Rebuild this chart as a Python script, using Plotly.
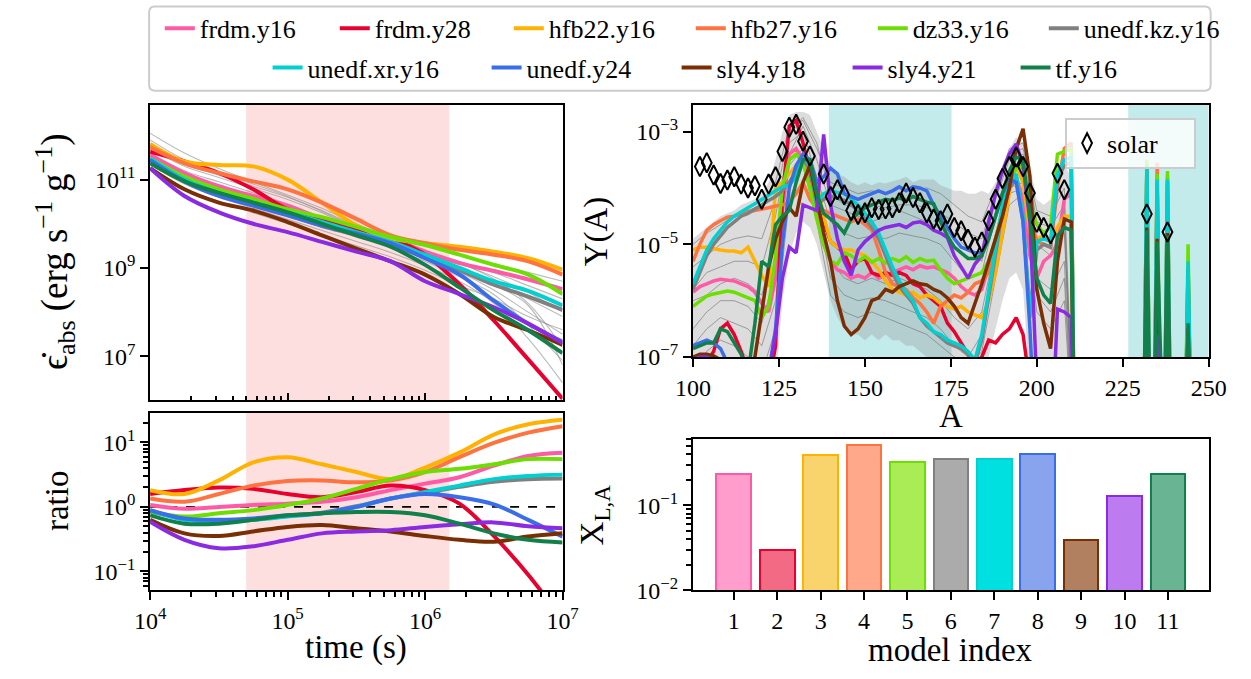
import plotly.graph_objects as go

W, H = 1251, 679
FONT = "Liberation Serif"
ZERO = 1e-9

# ---------------- models ----------------
MODELS = ["frdm.y16", "frdm.y28", "hfb22.y16", "hfb27.y16", "dz33.y16", "unedf.kz.y16",
          "unedf.xr.y16", "unedf.y24", "sly4.y18", "sly4.y21", "tf.y16"]
LINE_COLORS = ["#ff5aa5", "#e8002e", "#ffb300", "#ff7340", "#6cdf00", "#808080",
               "#00d0d0", "#3a6ee8", "#7a2e04", "#8a2be2", "#11804a"]
BAR_FACES = ["#ff9dcc", "#f36a85", "#f9d46c", "#ffa98a", "#a9ec55", "#ababab",
             "#00e0e0", "#89a4ef", "#b08060", "#bd7bf0", "#69b492"]
LEGEND_WIDTHS = [130, 129, 137, 137, 126, 140, 174, 145, 126, 123, 80]

# ---------------- heating rate (log10 erg/s/g) ----------------
LOG_TIME = [4.0, 4.25, 4.5, 4.75, 5.0, 5.25, 5.5, 5.75, 6.0, 6.25, 6.5, 6.75, 7.0]
HEATING_LOG = {
    "frdm.y16":     [11.56, 11.15, 10.85, 10.63, 10.41, 10.11, 9.89, 9.67, 9.37, 9.11, 8.93, 8.74, 8.52],
    "frdm.y28":     [11.63, 11.41, 11.15, 10.78, 10.33, 10.11, 9.89, 9.67, 9.30, 8.63, 7.81, 6.93, 6.04],
    "hfb22.y16":    [11.81, 11.41, 11.33, 11.30, 11.00, 10.48, 9.96, 9.67, 9.56, 9.48, 9.37, 9.22, 8.96],
    "hfb27.y16":    [11.74, 11.37, 11.15, 10.96, 10.78, 10.48, 10.11, 9.74, 9.56, 9.41, 9.30, 9.15, 8.85],
    "dz33.y16":     [11.48, 11.07, 10.78, 10.56, 10.33, 10.15, 9.93, 9.70, 9.52, 9.30, 9.07, 8.85, 8.41],
    "unedf.kz.y16": [11.46, 10.98, 10.68, 10.45, 10.20, 9.95, 9.75, 9.52, 9.25, 8.95, 8.62, 8.35, 8.05],
    "unedf.xr.y16": [11.48, 11.00, 10.70, 10.48, 10.26, 10.04, 9.81, 9.59, 9.30, 9.00, 8.70, 8.48, 8.15],
    "unedf.y24":    [11.44, 10.96, 10.63, 10.41, 10.19, 9.96, 9.78, 9.56, 9.22, 8.85, 8.26, 7.74, 7.33],
    "sly4.y18":     [11.26, 10.78, 10.48, 10.30, 10.04, 9.74, 9.44, 9.15, 8.85, 8.41, 7.89, 7.59, 7.26],
    "sly4.y21":     [11.26, 10.63, 10.26, 10.00, 9.81, 9.59, 9.37, 9.15, 8.70, 8.41, 8.11, 7.74, 7.30],
    "tf.y16":       [11.37, 10.96, 10.70, 10.48, 10.26, 10.00, 9.74, 9.48, 9.07, 8.56, 8.04, 7.59, 7.07],
}
HEATING_GRAY_LOG = [
    [12.05, 11.60, 11.25, 10.95, 10.65, 10.35, 10.00, 9.70, 9.50, 9.30, 9.10, 8.90, 8.70],
    [11.80, 11.35, 11.10, 10.85, 10.60, 10.30, 9.95, 9.65, 9.40, 9.15, 8.90, 8.60, 8.30],
    [11.60, 11.20, 10.95, 10.70, 10.45, 10.15, 9.85, 9.55, 9.30, 9.00, 8.70, 8.30, 7.90],
    [11.50, 11.10, 10.80, 10.55, 10.30, 10.05, 9.80, 9.50, 9.20, 8.90, 8.50, 8.00, 7.50],
    [11.45, 11.00, 10.70, 10.45, 10.20, 9.95, 9.70, 9.45, 9.15, 8.80, 8.40, 7.70, 6.90],
    [11.35, 10.90, 10.60, 10.35, 10.10, 9.85, 9.60, 9.35, 9.05, 8.70, 8.20, 7.40, 6.40],
    [11.25, 10.80, 10.50, 10.25, 10.00, 9.75, 9.50, 9.25, 8.95, 8.60, 8.30, 7.90, 7.60],
    [11.70, 11.30, 11.05, 10.80, 10.55, 10.25, 9.90, 9.60, 9.35, 9.10, 8.80, 8.45, 8.00],
    [11.90, 11.45, 11.15, 10.90, 10.62, 10.28, 9.92, 9.62, 9.38, 9.12, 8.75, 8.20, 7.20],
    [11.55, 11.05, 10.75, 10.50, 10.25, 10.00, 9.76, 9.50, 9.22, 8.95, 8.62, 8.15, 6.80],
]
RATIO_LOG = {
    "frdm.y16":     [0.03, -0.03, 0.00, 0.03, 0.05, 0.08, 0.15, 0.26, 0.36, 0.46, 0.64, 0.79, 0.84],
    "frdm.y28":     [0.20, 0.26, 0.30, 0.28, 0.20, 0.15, 0.23, 0.33, 0.26, 0.05, -0.45, -1.05, -1.75],
    "hfb22.y16":    [0.26, 0.20, 0.41, 0.69, 0.77, 0.66, 0.54, 0.43, 0.61, 0.84, 1.12, 1.28, 1.35],
    "hfb27.y16":    [0.13, 0.08, 0.20, 0.33, 0.40, 0.41, 0.38, 0.41, 0.54, 0.77, 0.99, 1.15, 1.25],
    "dz33.y16":     [-0.08, -0.15, -0.10, -0.05, 0.03, 0.13, 0.28, 0.43, 0.54, 0.59, 0.66, 0.74, 0.74],
    "unedf.kz.y16": [-0.06, -0.19, -0.22, -0.19, -0.14, -0.09, 0.01, 0.13, 0.22, 0.31, 0.39, 0.43, 0.44],
    "unedf.xr.y16": [-0.05, -0.20, -0.23, -0.20, -0.15, -0.10, 0.00, 0.13, 0.23, 0.33, 0.43, 0.48, 0.50],
    "unedf.y24":    [-0.05, -0.18, -0.20, -0.18, -0.13, -0.10, 0.00, 0.13, 0.20, 0.15, 0.04, -0.20, -0.46],
    "sly4.y18":     [-0.20, -0.41, -0.45, -0.38, -0.31, -0.28, -0.33, -0.38, -0.45, -0.51, -0.54, -0.46, -0.41],
    "sly4.y21":     [-0.23, -0.51, -0.64, -0.61, -0.51, -0.41, -0.38, -0.36, -0.31, -0.27, -0.24, -0.30, -0.33],
    "tf.y16":       [-0.13, -0.26, -0.26, -0.20, -0.13, -0.10, -0.08, -0.08, -0.13, -0.26, -0.41, -0.51, -0.55],
}
RATIO_REF_T = [1e4, 1e7]
RATIO_REF = [1.0, 1.0]
SHADE_T = [5e4, 1.5e6]

# ---------------- abundance pattern Y(A), log10 ----------------
A_MAIN = list(range(100, 211, 2))
YA_LOG = {
    "frdm.y16": [-5.85, -5.75, -5.70, -5.65, -5.62, -5.63, -5.65, -5.70, -5.75, -5.85,
                 -6.05, -6.20, -5.60, -4.40, -3.40, -3.30, -3.50, -3.90, -4.50, -5.00,
                 -5.30, -5.45, -5.50, -5.60, -5.55, -5.60, -5.50, -5.60, -5.55, -5.50,
                 -5.45, -5.40, -5.45, -5.38, -5.42, -5.40, -5.45, -5.50, -5.60, -5.75,
                 -5.85, -5.90, -5.80, -5.40, -4.90, -4.40, -3.95, -3.80, -4.20, -5.20,
                 -5.60, -5.30, -5.20, -5.00, -4.20, -4.10],
    "frdm.y28": [-7.30, -7.20, -7.10, -6.90, -6.50, -6.40, -6.60, -6.90, -7.30, -7.60,
                 -7.80, -7.50, -6.80, -4.20, -2.90, -2.80, -3.20, -3.70, -4.20, -4.60,
                 -4.95, -5.05, -5.15, -5.45, -5.30, -5.25, -5.50, -5.55, -5.50, -5.55,
                 -5.50, -5.55, -5.70, -5.75, -5.90, -6.00, -6.10, -6.40, -6.55, -6.75,
                 -6.95, -7.10, -7.00, -6.70, -6.75, -6.60, -6.50, -6.30, -6.60, -7.50,
                 -9.0, -9.0, -9.0, -9.0, -9.0, -9.0],
    "hfb22.y16": [-5.10, -5.05, -5.05, -5.08, -5.10, -5.12, -5.12, -5.15, -5.05, -5.30,
                  -5.55, -5.75, -4.00, -3.90, -3.75, -3.60, -3.45, -3.50, -3.90, -4.50,
                  -4.95, -5.05, -5.10, -5.10, -5.15, -5.20, -5.30, -5.45, -5.65, -5.80,
                  -5.85, -5.90, -5.85, -5.95, -5.90, -5.95, -6.05, -6.10, -6.15, -6.10,
                  -6.20, -6.25, -6.30, -6.00, -5.50, -4.80, -4.10, -3.60, -3.90, -4.80,
                  -4.90, -4.85, -4.95, -4.70, -4.50, -4.50],
    "hfb27.y16": [-5.30, -5.00, -4.75, -4.65, -4.58, -4.52, -4.50, -4.45, -4.42, -4.40,
                  -4.38, -4.35, -4.32, -4.30, -4.25, -4.10, -3.90, -4.20, -4.35, -4.40,
                  -4.45, -4.50, -4.55, -4.60, -4.55, -4.65, -4.75, -5.10, -5.50, -5.70,
                  -5.75, -5.80, -5.95, -6.05, -6.20, -6.40, -6.10, -6.00, -5.90, -5.95,
                  -5.85, -5.70, -5.65, -5.50, -5.00, -4.50, -4.00, -3.60, -3.65, -4.50,
                  -4.95, -5.00, -5.05, -4.00, -3.30, -3.20],
    "dz33.y16": [-6.10, -6.00, -5.92, -5.88, -5.85, -5.83, -5.85, -5.90, -5.95, -6.00,
                 -6.30, -6.10, -5.20, -4.00, -3.50, -3.40, -3.55, -4.00, -4.55, -5.00,
                 -5.30, -5.35, -5.15, -5.20, -5.30, -5.22, -5.32, -5.25, -5.33, -5.25,
                 -5.30, -5.22, -5.32, -5.25, -5.30, -5.28, -5.45, -5.60, -5.70, -5.65,
                 -5.60, -5.55, -5.50, -5.30, -4.90, -4.40, -3.90, -3.65, -3.60, -4.30,
                 -4.65, -4.80, -4.70, -3.40, -3.35, -3.30],
    "unedf.kz.y16": [-5.80, -5.50, -5.20, -5.00, -4.85, -4.70, -4.60, -4.50, -4.45, -4.38,
                     -4.30, -4.22, -4.15, -4.05, -3.90, -3.70, -3.50, -3.65, -4.30, -4.20,
                     -4.15, -4.18, -4.22, -4.30, -4.40, -4.55, -4.70, -4.90, -5.20, -5.50,
                     -5.75, -5.90, -6.05, -6.30, -6.45, -6.55, -6.65, -6.75, -6.80, -6.85,
                     -6.95, -7.10, -6.70, -5.90, -5.10, -4.40, -4.00, -3.85, -4.60, -6.20,
                     -5.10, -5.00, -5.05, -3.85, -3.60, -3.55],
    "unedf.xr.y16": [-5.70, -5.40, -5.10, -4.90, -4.75, -4.60, -4.50, -4.42, -4.35, -4.28,
                     -4.20, -4.12, -4.05, -3.98, -3.95, -3.80, -3.45, -3.60, -4.25, -4.10,
                     -4.05, -4.08, -4.10, -4.20, -4.30, -4.45, -4.60, -4.80, -5.10, -5.40,
                     -5.65, -5.85, -6.00, -6.30, -6.40, -6.55, -6.60, -6.70, -6.75, -6.80,
                     -6.90, -7.05, -6.60, -5.80, -5.00, -4.30, -3.90, -3.75, -4.50, -6.30,
                     -4.95, -4.90, -4.95, -3.75, -3.50, -3.45],
    "unedf.y24": [-6.80, -6.75, -6.70, -6.75, -6.85, -7.10, -7.30, -7.50, -7.60, -7.60,
                  -7.50, -7.30, -6.50, -5.00, -4.00, -3.60, -3.40, -3.50, -3.90, -3.80,
                  -3.65, -3.75, -4.10, -4.15, -4.20, -4.15, -4.10, -4.05, -4.10, -4.05,
                  -3.98, -4.05, -3.98, -4.00, -4.05, -4.30, -4.50, -4.70, -4.90, -5.05,
                  -5.10, -5.15, -5.15, -4.90, -4.50, -4.10, -3.85, -3.90, -4.60, -6.50,
                  -9.0, -9.0, -9.0, -9.0, -9.0, -9.0],
    "sly4.y18": [-7.00, -6.95, -6.95, -6.98, -7.05, -7.20, -7.40, -7.60, -7.50, -7.00,
                 -6.20, -5.40, -4.90, -4.60, -4.35, -4.50, -3.90, -3.60, -4.20, -4.80,
                 -5.30, -6.00, -6.45, -6.60, -6.50, -6.30, -6.00, -5.95, -5.80, -5.85,
                 -5.75, -5.70, -5.65, -5.70, -5.72, -5.80, -5.85, -5.95, -6.10, -6.30,
                 -6.40, -6.05, -5.70, -5.30, -4.90, -4.50, -4.00, -3.30, -2.95, -3.80,
                 -5.80, -6.40, -6.85, -5.30, -4.55, -4.60],
    "sly4.y21": [-7.05, -7.00, -7.00, -7.05, -7.10, -7.30, -7.60, -7.80, -7.80, -7.70,
                 -7.50, -7.30, -6.60, -5.60, -5.05, -5.15, -4.30, -4.35, -4.40, -3.05,
                 -4.30, -4.90, -5.30, -5.55, -5.10, -4.95, -4.85, -4.75, -4.70, -4.68,
                 -4.65, -4.70, -4.62, -4.60, -4.65, -4.75, -4.80, -4.88, -5.20, -5.40,
                 -5.60, -5.35, -5.20, -4.60, -4.10, -3.70, -3.40, -3.22, -3.60, -4.60,
                 -7.50, -9.0, -9.0, -6.15, -6.20, -6.30],
    "tf.y16": [-6.85, -6.80, -6.75, -6.75, -6.50, -6.55, -6.75, -6.95, -7.30, -6.40,
               -5.30, -5.40, -4.65, -4.50, -4.40, -3.90, -3.50, -3.50, -4.10, -4.45,
               -4.55, -4.65, -4.80, -4.55, -4.45, -4.35, -4.30, -4.25, -4.20, -4.22,
               -4.18, -4.22, -4.15, -4.20, -4.25, -4.28, -4.60, -4.85, -5.05, -5.15,
               -5.25, -5.25, -5.20, -4.90, -4.50, -4.10, -3.70, -3.45, -3.50, -4.50,
               -5.60, -5.90, -6.05, -4.85, -4.70, -4.75],
}
A_SPIKE = [232, 235, 238, 244]
YA_SPIKE_LOG = {
    "frdm.y16": [-4.00, -4.10, -4.20, -5.60],
    "frdm.y28": [-7.50, -6.90, -8.00, -9.00],
    "hfb22.y16": [-4.40, -4.50, -4.50, -6.00],
    "hfb27.y16": [-3.60, -3.55, -3.80, -5.40],
    "dz33.y16": [-3.50, -3.75, -3.70, -5.00],
    "unedf.kz.y16": [-3.65, -3.90, -3.90, -5.40],
    "unedf.xr.y16": [-3.60, -3.85, -3.85, -5.30],
    "unedf.y24": [-9.00, -9.00, -9.00, -9.00],
    "sly4.y18": [-4.70, -4.90, -4.80, -6.50],
    "sly4.y21": [-6.40, -6.60, -6.50, -7.50],
    "tf.y16": [-4.75, -4.95, -4.85, -6.40],
}
# spread of the many other (gray) mass models
BAND_UPPER_LOG = [-4.90, -4.80, -4.70, -4.60, -4.50, -4.45, -4.40, -4.30, -4.25, -4.20,
                  -4.10, -3.90, -3.50, -3.00, -2.70, -2.65, -2.65, -2.70, -3.00, -3.30,
                  -3.60, -3.75, -3.80, -3.90, -3.95, -3.90, -3.95, -3.90, -3.92, -3.88,
                  -3.85, -3.80, -3.90, -3.85, -3.85, -3.85, -3.95, -4.00, -4.05, -4.05,
                  -4.10, -4.10, -4.05, -4.10, -3.90, -3.60, -3.30, -3.10, -3.20, -3.60,
                  -4.20, -4.30, -4.20, -3.80, -3.60, -3.80]
BAND_LOWER_LOG = [-7.5, -7.5, -7.5, -7.5, -7.5, -7.5, -7.5, -7.5, -7.5, -7.5,
                  -7.5, -7.5, -7.5, -6.00, -5.20, -4.80, -4.60, -4.70, -5.00, -5.50,
                  -6.00, -6.30, -6.50, -6.60, -6.60, -6.70, -6.60, -6.70, -6.60, -6.70,
                  -6.70, -6.80, -6.80, -6.90, -7.00, -7.5, -7.5, -7.5, -7.5, -7.5,
                  -7.5, -7.5, -7.5, -7.00, -6.50, -6.00, -5.60, -5.50, -5.80, -7.5,
                  -7.5, -7.5, -7.5, -7.5, -7.5, -7.5]
A_GRAY = list(range(100, 209, 4))
YA_GRAY_LOG = [
    [-5.0, -4.8, -4.65, -4.5, -4.4, -4.3, -3.9, -2.9, -2.8, -3.3, -3.9, -4.0, -4.1, -4.05,
     -4.1, -4.0, -4.05, -4.0, -4.1, -4.3, -4.5, -4.6, -4.0, -3.4, -3.3, -4.4, -4.5, -4.0],
    [-5.8, -5.5, -5.4, -5.3, -5.3, -5.4, -4.5, -3.2, -3.0, -3.8, -4.6, -4.8, -4.9, -4.85,
     -4.9, -4.8, -4.85, -4.9, -5.0, -5.3, -5.6, -5.5, -4.5, -3.7, -3.6, -5.0, -5.2, -4.6],
    [-6.5, -6.2, -6.0, -6.0, -6.1, -6.4, -5.5, -3.6, -3.3, -4.2, -5.3, -5.6, -5.7, -5.6,
     -5.7, -5.6, -5.7, -5.8, -6.0, -6.3, -6.5, -6.2, -5.0, -4.0, -3.9, -5.6, -5.8, -5.3],
    [-7.2, -6.9, -6.7, -6.8, -7.0, -7.3, -6.5, -4.2, -3.6, -4.6, -5.9, -6.2, -6.3, -6.2,
     -6.3, -6.4, -6.5, -6.6, -6.8, -7.0, -7.2, -6.9, -5.6, -4.3, -4.1, -6.2, -6.5, -6.0],
    [-6.0, -5.9, -5.7, -5.6, -5.7, -5.9, -5.0, -3.4, -2.9, -3.5, -4.3, -4.4, -4.5, -4.6,
     -4.5, -4.4, -4.5, -4.6, -4.7, -4.8, -5.1, -5.3, -4.2, -3.5, -3.4, -4.7, -4.9, -4.8],
    [-5.4, -5.2, -5.0, -4.9, -4.85, -4.9, -4.2, -3.0, -2.75, -3.2, -4.1, -4.3, -4.35, -4.3,
     -4.35, -4.3, -4.3, -4.35, -4.45, -4.6, -4.8, -4.9, -4.1, -3.3, -3.2, -4.6, -4.7, -4.3],
    [-6.8, -6.5, -6.3, -6.4, -6.5, -6.8, -6.0, -3.9, -3.4, -4.4, -5.6, -5.9, -6.0, -5.95,
     -6.0, -6.1, -6.2, -6.3, -6.5, -6.8, -7.0, -6.6, -5.3, -4.1, -4.0, -5.9, -6.2, -5.6],
]
SOLAR_A = [102, 104, 106, 108, 110, 112, 114, 116, 118, 120, 122, 124, 126, 128, 130, 132, 134,
           138, 140, 142, 144, 146, 148, 150, 152, 154, 156, 158, 160, 162, 164, 166, 168, 170,
           172, 174, 176, 178, 180, 182, 184, 186, 188, 190, 192, 194, 196, 198, 200, 202, 204,
           206, 208, 232, 238]
SOLAR_LOG = [-3.62, -3.55, -3.77, -3.92, -3.86, -3.80, -3.93, -4.00, -3.96, -4.20, -3.93, -3.80,
             -3.35, -2.92, -2.87, -3.17, -3.43, -3.75, -4.15, -4.03, -4.12, -4.40, -4.47, -4.44,
             -4.35, -4.38, -4.37, -4.35, -4.26, -4.09, -4.17, -4.26, -4.44, -4.55, -4.58, -4.46,
             -4.70, -4.76, -4.91, -5.05, -4.96, -4.58, -4.20, -3.83, -3.62, -3.45, -3.62, -4.09,
             -4.61, -4.70, -4.81, -3.74, -4.03, -4.46, -4.78]
SHADE_A = [[139.5, 175.2], [226.6, 250.0]]

# ---------------- lanthanide fraction ----------------
MODEL_INDEX = list(range(1, 12))
X_LA = [0.234, 0.030, 0.389, 0.51, 0.325, 0.355, 0.355, 0.40, 0.039, 0.13, 0.236]

# ---------------- ticks ----------------
TIME_TICKS = [1e4, 1e5, 1e6, 1e7]
TIME_TEXT = ["10<sup>4</sup>", "10<sup>5</sup>", "10<sup>6</sup>", "10<sup>7</sup>"]
TIME_MINOR = [k * 10.0 ** d for d in (4, 5, 6) for k in range(2, 10)]
HEAT_TICKS = [1e7, 1e9, 1e11]
HEAT_TEXT = ["10<sup>7</sup>", "10<sup>9</sup>", "10<sup>11</sup>"]
RATIO_TICKS = [0.1, 1.0, 10.0]
RATIO_TEXT = ["10<sup>\u22121</sup>", "10<sup>0</sup>", "10<sup>1</sup>"]
RATIO_MINOR = [k * 10.0 ** d for d in (-2, -1, 0, 1) for k in range(2, 10)]
YA_TICKS = [1e-7, 1e-5, 1e-3]
YA_TEXT = ["10<sup>\u22127</sup>", "10<sup>\u22125</sup>", "10<sup>\u22123</sup>"]
A_TICKS = [100, 125, 150, 175, 200, 225, 250]
XLA_TICKS = [0.01, 0.1]
XLA_TEXT = ["10<sup>\u22122</sup>", "10<sup>\u22121</sup>"]
XLA_MINOR = [k * 10.0 ** d for d in (-2, -1) for k in range(2, 10)]


def fx(px):
    return px / W


def fy(py):
    return 1 - py / H


TIME = [10 ** v for v in LOG_TIME]
fig = go.Figure()

# ---- top-left: heating rates ----
for g in HEATING_GRAY_LOG:
    fig.add_trace(go.Scatter(x=TIME, y=[10 ** v for v in g], mode="lines",
                             line=dict(color="rgba(140,140,140,0.6)", width=1.1, shape="spline"),
                             xaxis="x", yaxis="y", showlegend=False, hoverinfo="skip"))
for i, m in enumerate(MODELS):
    fig.add_trace(go.Scatter(x=TIME, y=[10 ** v for v in HEATING_LOG[m]], mode="lines", name=m,
                             line=dict(color=LINE_COLORS[i], width=4, shape="spline"),
                             xaxis="x", yaxis="y", legend="legend" if i < 6 else "legend2",
                             legendwidth=LEGEND_WIDTHS[i], hoverinfo="skip"))

# ---- bottom-left: ratios ----
fig.add_trace(go.Scatter(x=RATIO_REF_T, y=RATIO_REF, mode="lines",
                         line=dict(color="black", width=1.6, dash="dash"),
                         xaxis="x2", yaxis="y2", showlegend=False, hoverinfo="skip"))
for i, m in enumerate(MODELS):
    fig.add_trace(go.Scatter(x=TIME, y=[10 ** v for v in RATIO_LOG[m]], mode="lines",
                             line=dict(color=LINE_COLORS[i], width=4, shape="spline"),
                             xaxis="x2", yaxis="y2", showlegend=False, hoverinfo="skip"))

# ---- top-right: abundances ----
fig.add_trace(go.Scatter(x=A_MAIN, y=[10 ** v for v in BAND_UPPER_LOG], mode="lines",
                         line=dict(width=0, color="rgba(0,0,0,0)"),
                         xaxis="x3", yaxis="y3", showlegend=False, hoverinfo="skip"))
fig.add_trace(go.Scatter(x=A_MAIN, y=[10 ** v for v in BAND_LOWER_LOG], mode="lines",
                         line=dict(width=0, color="rgba(0,0,0,0)"), fill="tonexty",
                         fillcolor="rgba(150,150,150,0.33)",
                         xaxis="x3", yaxis="y3", showlegend=False, hoverinfo="skip"))
for g in YA_GRAY_LOG:
    fig.add_trace(go.Scatter(x=A_GRAY + [A_GRAY[-1] + 3], y=[10 ** v for v in g] + [ZERO],
                             mode="lines", line=dict(color="rgba(110,110,110,0.6)", width=1),
                             xaxis="x3", yaxis="y3", showlegend=False, hoverinfo="skip"))
for i, m in enumerate(MODELS):
    xs = list(A_MAIN) + [A_MAIN[-1] + 1]
    ys = [10 ** v for v in YA_LOG[m]] + [ZERO]
    for a, p in zip(A_SPIKE, YA_SPIKE_LOG[m]):
        xs += [a - 1, a, a + 1]
        ys += [ZERO, 10 ** p, ZERO]
    fig.add_trace(go.Scatter(x=xs, y=ys, mode="lines",
                             line=dict(color=LINE_COLORS[i], width=3.5),
                             xaxis="x3", yaxis="y3", showlegend=False, hoverinfo="skip"))
fig.add_trace(go.Scatter(x=SOLAR_A, y=[10 ** v for v in SOLAR_LOG], mode="markers", name="solar",
                         marker=dict(symbol="diamond-tall-open", size=14, color="black",
                                     line=dict(width=2, color="black")),
                         xaxis="x3", yaxis="y3", legend="legend3", legendwidth=82,
                         hoverinfo="skip"))

# ---- bottom-right: bars ----
fig.add_trace(go.Bar(x=MODEL_INDEX, y=X_LA, width=0.8,
                     marker=dict(color=BAR_FACES, line=dict(color=LINE_COLORS, width=2)),
                     xaxis="x4", yaxis="y4", showlegend=False, hoverinfo="skip"))

# ---------------- layout ----------------
tickfont = dict(family=FONT, size=24, color="black")
base = dict(showline=True, linecolor="black", linewidth=2, mirror=True, showgrid=False,
            zeroline=False, tickcolor="black", tickwidth=2, tickfont=tickfont)

LX = [fx(136), fx(560.7)]
RX = [fx(695), fx(1226)]

shapes = []
for ax in ("x", "x2"):
    shapes.append(dict(type="rect", xref=ax, yref=("y" if ax == "x" else "y2") + " domain",
                       x0=SHADE_T[0], x1=SHADE_T[1], y0=0, y1=1, fillcolor="#fddfdf",
                       line=dict(width=0), layer="below"))
for a0, a1 in SHADE_A:
    shapes.append(dict(type="rect", xref="x3", yref="y3 domain", x0=a0, x1=a1, y0=0, y1=1,
                       fillcolor="#c3ebec", line=dict(width=0), layer="below"))
# rounded frame around the model legend
bx0, bx1, by0, by1, r = 135, 1228, 6.5, 92.5, 6
path = (f"M {fx(bx0 + r)},{fy(by0)} L {fx(bx1 - r)},{fy(by0)} Q {fx(bx1)},{fy(by0)} {fx(bx1)},{fy(by0 + r)} "
        f"L {fx(bx1)},{fy(by1 - r)} Q {fx(bx1)},{fy(by1)} {fx(bx1 - r)},{fy(by1)} "
        f"L {fx(bx0 + r)},{fy(by1)} Q {fx(bx0)},{fy(by1)} {fx(bx0)},{fy(by1 - r)} "
        f"L {fx(bx0)},{fy(by0 + r)} Q {fx(bx0)},{fy(by0)} {fx(bx0 + r)},{fy(by0)} Z")
shapes.append(dict(type="path", path=path, xref="paper", yref="paper",
                   line=dict(color="#cccccc", width=2), fillcolor="white", layer="below"))

tfont = dict(family=FONT, size=33, color="black")
annotations = [
    dict(text="\u03f5\u0307<sub>abs</sub> (erg s<sup>\u22121</sup> g<sup>\u22121</sup>)", x=fx(38), y=fy(257),
         textangle=-90, font=dict(family=FONT, size=37, color="black")),
    dict(text="ratio", x=fx(40), y=fy(511), textangle=-90),
    dict(text="time (s)", x=fx(348), y=fy(660)),
    dict(text="Y(A)", x=fx(596), y=fy(236), textangle=-90),
    dict(text="A", x=fx(960.5), y=fy(424)),
    dict(text="X<sub>L,A</sub>", x=fx(594), y=fy(524.6), textangle=-90),
    dict(text="model index", x=fx(960.5), y=fy(663)),
]
for an in annotations:
    an.update(xref="paper", yref="paper", showarrow=False, xanchor="center", yanchor="middle")
    an.setdefault("font", tfont)

legend_font = dict(family=FONT, size=26, color="black")
fig.update_layout(
    width=W, height=H, margin=dict(l=0, r=0, t=0, b=0),
    paper_bgcolor="white", plot_bgcolor="rgba(0,0,0,0)", hovermode=False,
    font=dict(family=FONT, size=24, color="black"),
    xaxis=dict(base, domain=LX, anchor="y", type="log", range=[4, 7], tickmode="array",
               tickvals=TIME_TICKS, ticktext=TIME_TEXT, showticklabels=False, ticks="inside", ticklen=7,
               minor=dict(tickmode="array", tickvals=TIME_MINOR, ticks="inside", ticklen=4,
                          tickwidth=1.5, tickcolor="black", showgrid=False)),
    yaxis=dict(base, domain=[fy(408.3), fy(107)], anchor="x", type="log", range=[6.0, 12.69],
               tickmode="array", tickvals=HEAT_TICKS, ticktext=HEAT_TEXT, ticks="outside", ticklen=8),
    xaxis2=dict(base, domain=LX, anchor="y2", type="log", range=[4, 7], tickmode="array",
                tickvals=TIME_TICKS, ticktext=TIME_TEXT, ticks="outside", ticklen=8,
                minor=dict(tickmode="array", tickvals=TIME_MINOR, ticks="outside", ticklen=5,
                           tickwidth=1.5, tickcolor="black", showgrid=False)),
    yaxis2=dict(base, domain=[fy(601.7), fy(420.7)], anchor="x2", type="log", range=[-1.29, 1.46],
                tickmode="array", tickvals=RATIO_TICKS, ticktext=RATIO_TEXT, ticks="outside", ticklen=8,
                minor=dict(tickmode="array", tickvals=RATIO_MINOR, ticks="outside", ticklen=5,
                           tickwidth=1.5, tickcolor="black", showgrid=False)),
    xaxis3=dict(base, domain=RX, anchor="y3", range=[100, 250], tickmode="array",
                tickvals=A_TICKS, ticks="outside", ticklen=8),
    yaxis3=dict(base, domain=[fy(364), fy(107)], anchor="x3", type="log", range=[-7, -2.526],
                tickmode="array", tickvals=YA_TICKS, ticktext=YA_TEXT, ticks="outside", ticklen=8),
    xaxis4=dict(base, domain=RX, anchor="y4", range=[0.06, 11.94], tickmode="array",
                tickvals=MODEL_INDEX, ticks="outside", ticklen=8),
    yaxis4=dict(base, domain=[fy(601.7), fy(447.5)], anchor="x4", type="log", range=[-2, -0.217],
                tickmode="array", tickvals=XLA_TICKS, ticktext=XLA_TEXT, ticks="outside", ticklen=8,
                minor=dict(tickmode="array", tickvals=XLA_MINOR, ticks="outside", ticklen=5,
                           tickwidth=1.5, tickcolor="black", showgrid=False)),
    legend=dict(orientation="h", x=fx(146), xanchor="left", y=fy(29), yanchor="middle",
                font=legend_font, bgcolor="rgba(0,0,0,0)", borderwidth=0, traceorder="normal"),
    legend2=dict(orientation="h", x=fx(257), xanchor="left", y=fy(69), yanchor="middle",
                 font=legend_font, bgcolor="rgba(0,0,0,0)", borderwidth=0, traceorder="normal"),
    legend3=dict(orientation="h", x=fx(1213), xanchor="right", y=fy(120), yanchor="top",
                 font=legend_font, bgcolor="rgba(255,255,255,0.8)", bordercolor="#cccccc",
                 borderwidth=2),
    shapes=shapes,
    annotations=annotations,
    bargap=0,
)

fig.write_html("out.html")
